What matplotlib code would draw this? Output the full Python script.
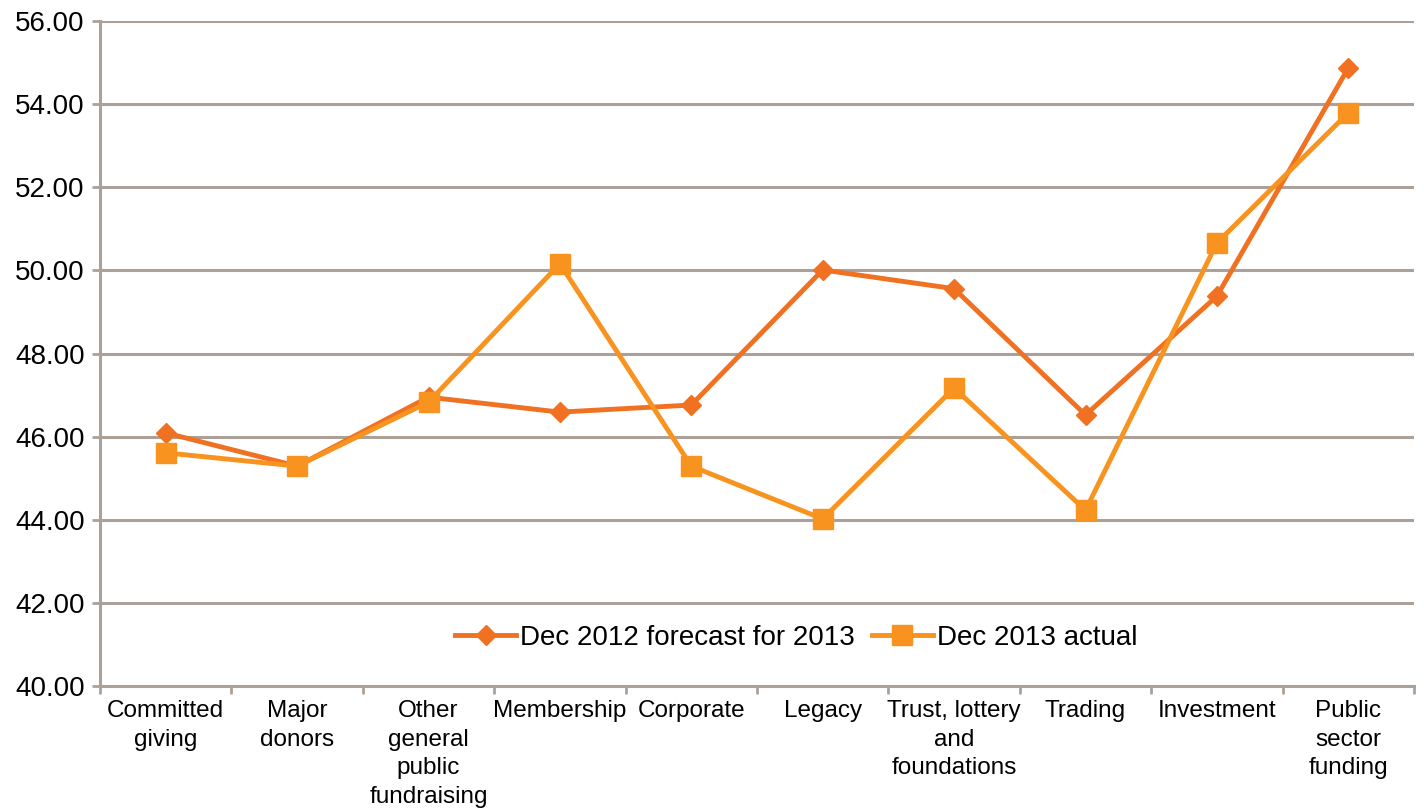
import matplotlib
matplotlib.use("Agg")
import matplotlib.pyplot as plt
import numpy as np

categories = ["Committed\ngiving", "Major\ndonors", "Other\ngeneral\npublic\nfundraising",
              "Membership", "Corporate", "Legacy", "Trust, lottery\nand\nfoundations",
              "Trading", "Investment", "Public\nsector\nfunding"]
forecast_2013 = [46.09, 45.29, 46.95, 46.59, 46.76, 50.01, 49.56, 46.52, 49.38, 54.87]
actual_2013 = [45.61, 45.29, 46.83, 50.16, 45.29, 44.02, 47.17, 44.23, 50.66, 53.79]
y_ticks = [40, 42, 44, 46, 48, 50, 52, 54, 56]

plt.rcParams['font.family'] = ['Liberation Sans', 'DejaVu Sans']
grid_col = "#ABA198"

fig = plt.figure(figsize=(14.24, 8.11), dpi=100)
ax = fig.add_axes([100/1424, 1 - 686/811, 1314/1424, 665/811])

x = np.arange(len(categories))
ax.plot(x, forecast_2013, color="#F07122", lw=3.5, marker="D", ms=10,
        label="Dec 2012 forecast for 2013", zorder=3)
ax.plot(x, actual_2013, color="#F7931E", lw=3.5, marker="s", ms=14,
        label="Dec 2013 actual", zorder=4)

ax.set_xlim(-0.5, len(categories) - 0.5)
ax.set_ylim(40, 56)
ax.set_yticks(y_ticks)
ax.set_yticklabels([f"{v:.2f}" for v in y_ticks], fontsize=20)
ax.yaxis.grid(True, color=grid_col, lw=2.2)
ax.set_axisbelow(True)

ax.set_xticks(np.arange(len(categories) + 1) - 0.5)
ax.set_xticklabels([])
ax.set_xticks(x, minor=True)
ax.set_xticklabels(categories, minor=True, fontsize=17.5, linespacing=1.4, va="top")
ax.tick_params(axis="x", which="major", length=6, width=2, color=grid_col, direction="out")
ax.tick_params(axis="x", which="minor", length=0, pad=10)
ax.tick_params(axis="y", length=6, width=2, color=grid_col, pad=5)

for side in ("top", "right"):
    ax.spines[side].set_visible(False)
for side in ("left", "bottom"):
    ax.spines[side].set_color(grid_col)
    ax.spines[side].set_linewidth(2.2)

ax.legend(loc="center", bbox_to_anchor=(0.53, 0.072), ncol=2, frameon=False,
          fontsize=20, handlelength=2.2, columnspacing=0.6, handletextpad=0.15)

fig.savefig("out.png", dpi=100)
